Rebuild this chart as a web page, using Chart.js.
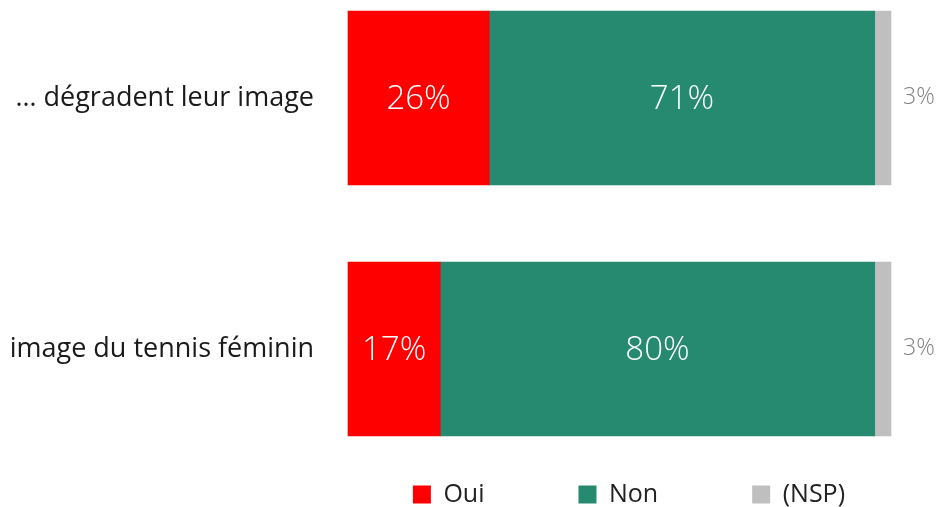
<!DOCTYPE html>
<html>
<head>
<meta charset="utf-8">
<script src="https://cdn.jsdelivr.net/npm/chart.js@4/dist/chart.umd.min.js"></script>
<style>
  html, body { margin: 0; padding: 0; background: #fff; }
  #wrap { width: 943px; height: 507px; }
</style>
</head>
<body>
<div id="wrap"><canvas id="chart"></canvas></div>
<script>
const categories = ['… dégradent leur image', 'image du tennis féminin'];
const oui = [26, 17];
const non = [71, 80];
const nsp = [3, 3];

const FONT = "'Open Sans', sans-serif";

// white % labels inside the bars, grey ones to the right of the NSP slice
const barLabels = {
    id: 'barLabels',
    afterDatasetsDraw(chart) {
        const ctx = chart.ctx;
        ctx.save();
        ctx.textBaseline = 'middle';
        chart.data.datasets.forEach((ds, di) => {
            const meta = chart.getDatasetMeta(di);
            meta.data.forEach((bar, i) => {
                const p = bar.getProps(['x', 'y', 'base'], true);
                const txt = ds.data[i] + '%';
                if (di === 2) {
                    ctx.font = '300 23px ' + FONT;
                    ctx.fillStyle = '#808080';
                    ctx.textAlign = 'left';
                    ctx.fillText(txt, p.x + 12, p.y - 1);
                } else {
                    ctx.font = '300 33px ' + FONT;
                    ctx.fillStyle = '#ffffff';
                    ctx.textAlign = 'center';
                    ctx.fillText(txt, (p.x + p.base) / 2, p.y + 2);
                }
            });
        });
        ctx.restore();
    }
};

// pull the legend a bit lower
const legendShift = {
    id: 'legendShift',
    beforeInit(chart) {
        const fit = chart.legend.fit;
        chart.legend.fit = function () {
            fit.bind(chart.legend)();
            this.height -= 10;
        };
    }
};

new Chart(document.getElementById('chart'), {
    type: 'bar',
    data: {
        labels: categories,
        datasets: [
            { label: 'Oui', data: oui, backgroundColor: '#ff0000' },
            { label: 'Non', data: non, backgroundColor: '#268a70' },
            { label: '(NSP)', data: nsp, backgroundColor: '#bfbfbf' }
        ]
    },
    options: {
        indexAxis: 'y',
        responsive: true,
        maintainAspectRatio: false,
        animation: false,
        layout: { padding: { top: 98, right: 4, left: 0, bottom: 0 } },
        datasets: {
            bar: { barThickness: 174, borderWidth: 0, clip: false }
        },
        scales: {
            x: {
                stacked: true,
                min: 0,
                max: 100,
                display: true,
                grid: { display: false },
                border: { display: false },
                ticks: { display: false },
                afterFit(scale) { scale.height = 39; }
            },
            y: {
                stacked: true,
                offset: false,
                grid: { display: false },
                border: { display: false },
                ticks: {
                    padding: 26,
                    color: '#1a1a1a',
                    font: { family: FONT, size: 27, weight: 400 }
                },
                afterFit(scale) { scale.width = 348; }
            },
            // empty right axis: keeps room for the NSP labels
            yRight: {
                type: 'category',
                position: 'right',
                offset: false,
                grid: { display: false },
                border: { display: false },
                ticks: { display: false },
                afterFit(scale) { scale.width = 48; }
            }
        },
        plugins: {
            tooltip: { enabled: false },
            legend: {
                position: 'bottom',
                align: 'end',
                labels: {
                    boxWidth: 18,
                    boxHeight: 18,
                    padding: 94,
                    color: '#222',
                    font: { family: FONT, size: 25, weight: 400 }
                }
            }
        }
    },
    plugins: [barLabels, legendShift]
});
</script>
</body>
</html>
